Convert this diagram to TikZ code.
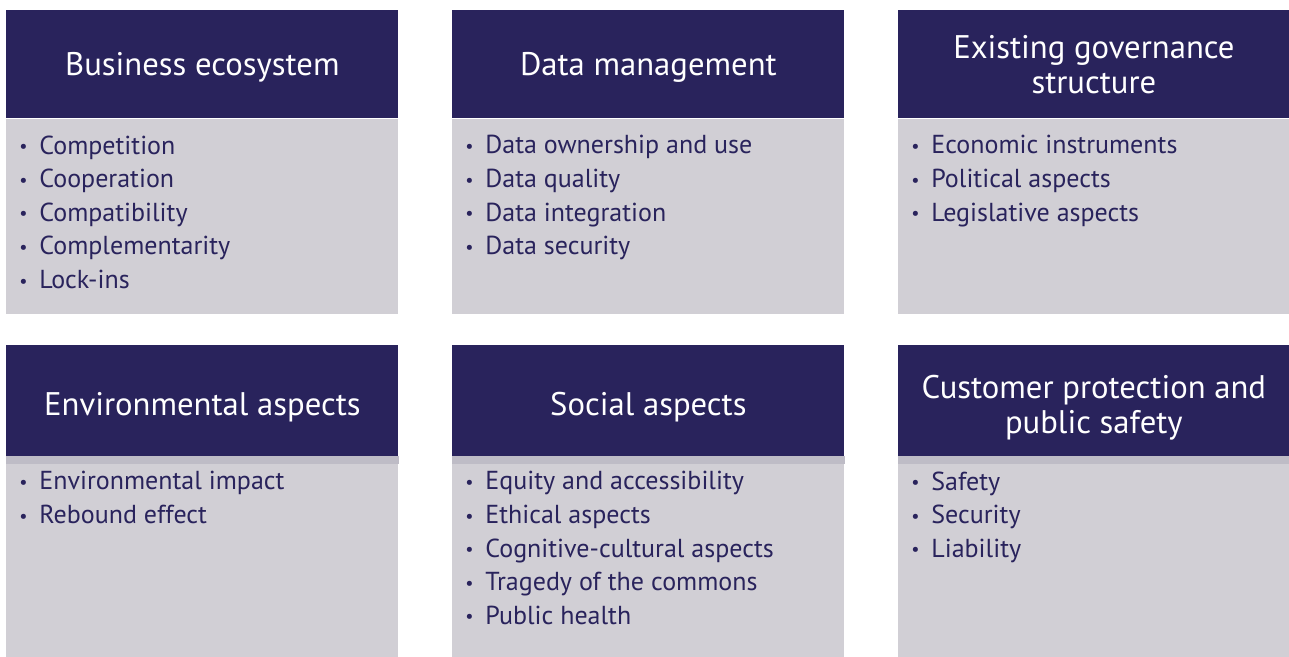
\documentclass[tikz,border=0pt]{standalone}
\usepackage{fontspec}
\setmainfont{PT Sans}
\usepackage{xcolor}
\usetikzlibrary{positioning}

\definecolor{navy}{RGB}{41,35,92}
\definecolor{panelgray}{RGB}{209,207,213}
\definecolor{stripegray}{RGB}{190,188,198}

\newcommand{\itm}[1]{\makebox[0.4cm][l]{\raisebox{0.1ex}{\scalebox{0.7}{\textbullet}}}#1}

\begin{document}
\begin{tikzpicture}
\tikzstyle{head}=[rectangle, anchor=north west, fill=navy, text=white, minimum width=7.84cm, minimum height=2.16cm, inner sep=0, text depth=0pt, align=center, font=\fontsize{18.6}{20}\selectfont]
\tikzstyle{body}=[rectangle, anchor=north west, fill=panelgray, minimum width=7.84cm, inner sep=0]
\tikzstyle{items}=[anchor=north west, text=navy, inner sep=0, align=left, font=\fontsize{14.8}{19.1}\selectfont]

	\useasboundingbox (0,0) rectangle (25.78,-13.14);

	%headers, top row
	\node[head] (bus_head) at (0.12,-0.2) {Business ecosystem};
	\node[head] (data_head) at (9.04,-0.2) {Data management};
	\node[head, minimum width=7.82cm] (gov_head) at (17.96,-0.2) {Existing governance\\structure};
	%headers, bottom row
	\node[head, minimum height=2.36cm] (env_head) at (0.12,-6.9) {Environmental aspects};
	\node[head, minimum height=2.36cm] (soc_head) at (9.04,-6.9) {Social aspects};
	\node[head, minimum height=2.36cm, minimum width=7.82cm] (cust_head) at (17.96,-6.9) {Customer protection and\\public safety};

	%bodies
	\node[body, minimum height=3.9cm] (bus_body) at (bus_head.south west) {};
	\node[body, minimum height=3.9cm] (data_body) at (data_head.south west) {};
	\node[body, minimum height=3.9cm, minimum width=7.82cm] (gov_body) at (gov_head.south west) {};
	\node[body, minimum height=3.88cm] (env_body) at (env_head.south west) {};
	\node[body, minimum height=3.88cm] (soc_body) at (soc_head.south west) {};
	\node[body, minimum height=3.88cm, minimum width=7.82cm] (cust_body) at (cust_head.south west) {};

	%stripes at the foot of the lower headers
	\fill[stripegray] (env_head.south west) rectangle ([yshift=0.16cm]env_head.south east);
	\fill[stripegray] (soc_head.south west) rectangle ([yshift=0.16cm]soc_head.south east);
	\fill[stripegray] (cust_head.south west) rectangle ([yshift=0.16cm]cust_head.south east);

	%lists
	\node[items] (bus_list) at ([xshift=0.26cm, yshift=-0.33cm]bus_body.north west)
		{\itm{Competition}\\\itm{Cooperation}\\\itm{Compatibility}\\\itm{Complementarity}\\\itm{Lock-ins}};
	\node[items] (data_list) at ([xshift=0.26cm, yshift=-0.33cm]data_body.north west)
		{\itm{Data ownership and use}\\\itm{Data quality}\\\itm{Data integration}\\\itm{Data security}};
	\node[items] (gov_list) at ([xshift=0.26cm, yshift=-0.33cm]gov_body.north west)
		{\itm{Economic instruments}\\\itm{Political aspects}\\\itm{Legislative aspects}};
	\node[items] (env_list) at ([xshift=0.26cm, yshift=-0.15cm]env_body.north west)
		{\itm{Environmental impact}\\\itm{Rebound effect}};
	\node[items] (soc_list) at ([xshift=0.26cm, yshift=-0.15cm]soc_body.north west)
		{\itm{Equity and accessibility}\\\itm{Ethical aspects}\\\itm{Cognitive-cultural aspects}\\\itm{Tragedy of the commons}\\\itm{Public health}};
	\node[items] (cust_list) at ([xshift=0.26cm, yshift=-0.15cm]cust_body.north west)
		{\itm{Safety}\\\itm{Security}\\\itm{Liability}};

\end{tikzpicture}
\end{document}
